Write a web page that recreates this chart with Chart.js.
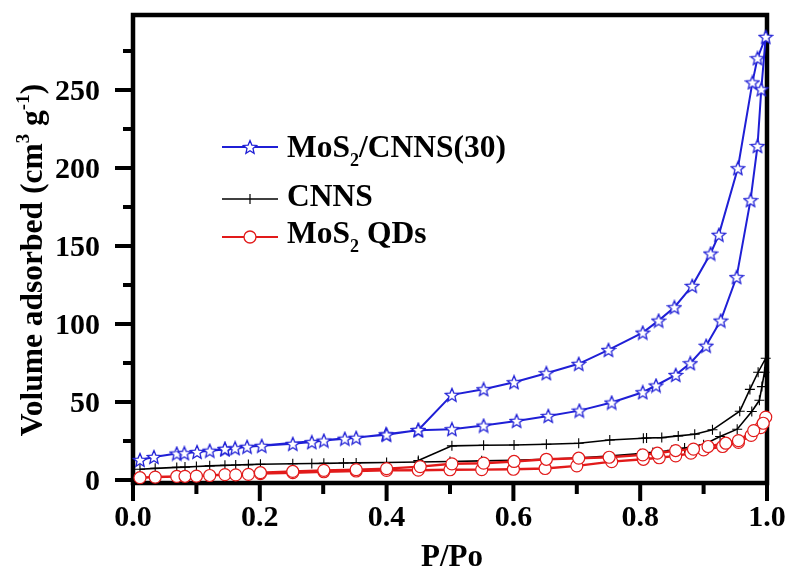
<!DOCTYPE html>
<html>
<head>
<meta charset="utf-8">
<script src="https://cdn.jsdelivr.net/npm/chart.js@4.4.1/dist/chart.umd.min.js"></script>
<style>
  html, body { margin: 0; padding: 0; background: #fff; }
  #wrap { width: 790px; height: 568px; }
</style>
</head>
<body>
<div id="wrap"><canvas id="c" width="790" height="568"></canvas></div>
<script>
// ---------- data ----------
const seriesNames = ['MoS2/CNNS(30)', 'CNNS', 'MoS2 QDs'];

// MoS2/CNNS(30): adsorption branch then desorption branch
const blueAdsX = [0.011,0.033,0.069,0.081,0.101,0.121,0.145,0.161,0.180,0.203,0.252,0.282,0.301,0.334,0.352,0.399,0.450,0.503,0.553,0.605,0.655,0.704,0.755,0.804,0.825,0.856,0.879,0.904,0.927,0.952,0.974,0.985,0.991,0.998];
const blueAdsY = [12.8,14.7,16.9,17.1,17.9,18.7,19.5,20.3,21.2,21.8,23.1,24.2,25.2,26.4,27.0,29.2,31.8,32.5,34.8,37.8,41.0,44.4,49.6,56.2,60.5,67.3,74.8,86.0,102.1,130.0,179.3,214.0,250.4,284.0];
const blueDesX = [0.985,0.977,0.954,0.924,0.911,0.882,0.854,0.829,0.804,0.750,0.703,0.652,0.601,0.553,0.503,0.450,0.400,0.145];
const blueDesY = [270.3,254.8,199.8,157.1,145.1,124.4,110.7,102.1,94.4,83.3,74.4,68.4,62.6,58.1,54.5,32.0,29.0,19.9];

// CNNS
const blackAdsX = [0.011,0.035,0.069,0.082,0.100,0.121,0.145,0.162,0.182,0.201,0.252,0.282,0.301,0.332,0.352,0.400,0.450,0.500,0.550,0.600,0.650,0.700,0.750,0.800,0.820,0.850,0.870,0.900,0.926,0.953,0.976,0.988,0.992,0.996,0.998];
const blackAdsY = [6.8,7.4,8.0,8.2,8.6,9.0,9.3,9.5,9.8,10.0,10.3,10.5,10.6,10.8,10.9,11.1,11.5,11.8,12.2,12.6,13.2,14.0,15.2,16.8,17.6,19.0,20.4,22.5,27.8,32.5,43.8,51.0,59.8,69.0,78.0];
const blackDesX = [0.986,0.973,0.957,0.914,0.886,0.860,0.834,0.810,0.805,0.752,0.703,0.652,0.601,0.553,0.503,0.450];
const blackDesY = [69.0,58.0,44.0,32.1,29.3,28.2,27.1,26.8,26.7,25.6,23.5,22.8,22.4,22.2,21.8,12.4];

// MoS2 QDs
const redAdsX = [0.011,0.035,0.069,0.082,0.100,0.121,0.145,0.162,0.182,0.201,0.252,0.301,0.352,0.400,0.450,0.500,0.550,0.600,0.650,0.700,0.755,0.805,0.830,0.856,0.880,0.900,0.930,0.955,0.975,0.990,0.998];
const redAdsY = [1.4,1.8,2.2,2.3,2.4,2.8,3.4,3.2,3.5,4.0,4.6,5.2,5.7,6.1,6.2,6.5,6.6,6.8,7.3,9.0,11.7,13.2,14.2,15.4,17.1,19.2,21.4,24.0,28.5,33.5,40.2];
const redDesX = [0.994,0.979,0.955,0.935,0.907,0.884,0.856,0.827,0.804,0.751,0.703,0.652,0.601,0.553,0.503,0.453,0.400,0.352,0.301,0.252,0.201];
const redDesY = [36.3,31.6,25.2,23.5,21.4,19.7,18.8,17.1,16.0,14.5,13.9,13.2,11.8,10.7,10.3,8.5,7.2,6.6,6.1,5.4,4.6];

// axis ticks
const xTicks = [0.0, 0.2, 0.4, 0.6, 0.8, 1.0];
const xTickLabels = ['0.0', '0.2', '0.4', '0.6', '0.8', '1.0'];
const xMinorTicks = [0.1, 0.3, 0.5, 0.7, 0.9];
const yTicks = [0, 50, 100, 150, 200, 250];
const yTickLabels = ['0', '50', '100', '150', '200', '250'];
const yMinorTicks = [25, 75, 125, 175, 225, 275];
const xTitle = 'P/Po';

// ---------- helpers ----------
const FONT = "'Liberation Serif', 'Times New Roman', serif";
const BLUE = '#1f1fd6';
const RED = '#e21a1a';
const BLACK = '#000000';

function pts(xs, ys) { return xs.map((x, i) => ({ x: x, y: ys[i] })); }

function makeStar(size, color) {
  const c = document.createElement('canvas');
  c.width = size; c.height = size;
  const g = c.getContext('2d');
  const cx = size / 2, cy = size / 2 + 0.6, R = size / 2 - 1, r = R * 0.45;
  g.beginPath();
  for (let i = 0; i < 10; i++) {
    const a = -Math.PI / 2 + i * Math.PI / 5;
    const rad = i % 2 === 0 ? R : r;
    g.lineTo(cx + rad * Math.cos(a), cy + rad * Math.sin(a));
  }
  g.closePath();
  g.fillStyle = '#fff';
  g.fill();
  g.strokeStyle = color;
  g.lineWidth = 1.3;
  g.stroke();
  return c;
}
const starImg = makeStar(16, BLUE);

function drawRich(ctx, parts, x, y) {
  let cx = x;
  parts.forEach(p => {
    ctx.font = 'bold ' + p.size + 'px ' + FONT;
    ctx.fillText(p.t, cx, y + (p.dy || 0));
    cx += ctx.measureText(p.t).width;
  });
  return cx - x;
}
function richWidth(ctx, parts) {
  let w = 0;
  parts.forEach(p => { ctx.font = 'bold ' + p.size + 'px ' + FONT; w += ctx.measureText(p.t).width; });
  return w;
}

// ---------- plugins ----------
const frameAndTicks = {
  id: 'frameAndTicks',
  beforeDatasetsDraw(chart) {
    const { ctx, chartArea: a, scales } = chart;
    const xs = scales.x, ys = scales.y;
    ctx.save();
    ctx.strokeStyle = '#000';
    ctx.lineWidth = 4;
    ctx.lineCap = 'butt';
    ctx.beginPath();
    yTicks.forEach(v => { const p = ys.getPixelForValue(v); ctx.moveTo(a.left - 18, p); ctx.lineTo(a.left, p); });
    yMinorTicks.forEach(v => { const p = ys.getPixelForValue(v); ctx.moveTo(a.left - 10, p); ctx.lineTo(a.left, p); });
    xTicks.forEach(v => { const p = xs.getPixelForValue(v); ctx.moveTo(p, a.bottom); ctx.lineTo(p, a.bottom + 18); });
    xMinorTicks.forEach(v => { const p = xs.getPixelForValue(v); ctx.moveTo(p, a.bottom); ctx.lineTo(p, a.bottom + 11); });
    ctx.stroke();
    ctx.lineWidth = 4.5;
    ctx.strokeRect(a.left, a.top, a.right - a.left, a.bottom - a.top);

    // tick labels
    ctx.fillStyle = '#000';
    ctx.font = 'bold 30px ' + FONT;
    ctx.textAlign = 'right';
    ctx.textBaseline = 'alphabetic';
    yTicks.forEach((v, i) => {
      const p = ys.getPixelForValue(v);
      ctx.fillText(yTickLabels[i], 100, p + 10);
    });
    ctx.textAlign = 'center';
    xTicks.forEach((v, i) => {
      const p = xs.getPixelForValue(v);
      ctx.fillText(xTickLabels[i], p, 526);
    });
    ctx.restore();
  }
};

const titlesAndLegend = {
  id: 'titlesAndLegend',
  afterDraw(chart) {
    const { ctx, chartArea: a } = chart;
    ctx.save();
    ctx.fillStyle = '#000';
    ctx.textBaseline = 'alphabetic';
    ctx.textAlign = 'left';

    // x title
    ctx.font = 'bold 31px ' + FONT;
    const xw = ctx.measureText(xTitle).width;
    ctx.fillText(xTitle, (a.left + a.right) / 2 + 2 - xw / 2, 566);

    // y title (rotated)
    const yParts = [
      { t: 'Volume adsorbed (cm', size: 31.5 },
      { t: '3', size: 19, dy: -13 },
      { t: ' g', size: 31.5 },
      { t: '-1', size: 19, dy: -13 },
      { t: ')', size: 31.5 }
    ];
    const yw = richWidth(ctx, yParts);
    ctx.save();
    ctx.translate(42, 260);
    ctx.rotate(-Math.PI / 2);
    drawRich(ctx, yParts, -yw / 2, 0);
    ctx.restore();

    // legend
    const lx0 = 222, lx1 = 278, tx = 287;
    const rows = [
      { y: 147, base: 157, color: BLUE, lw: 2, marker: 'star',
        parts: [{ t: 'MoS', size: 31.5 }, { t: '2', size: 18, dy: 9 }, { t: '/CNNS(30)', size: 31.5 }] },
      { y: 199, base: 206, color: BLACK, lw: 1.5, marker: 'cross',
        parts: [{ t: 'CNNS', size: 31.5 }] },
      { y: 237, base: 243, color: RED, lw: 2, marker: 'circle',
        parts: [{ t: 'MoS', size: 31.5 }, { t: '2', size: 18, dy: 9 }, { t: ' QDs', size: 31.5 }] }
    ];
    rows.forEach(r => {
      ctx.strokeStyle = r.color;
      ctx.lineWidth = r.lw;
      ctx.beginPath();
      ctx.moveTo(lx0, r.y); ctx.lineTo(lx1, r.y);
      ctx.stroke();
      const mx = (lx0 + lx1) / 2;
      if (r.marker === 'star') {
        ctx.drawImage(starImg, mx - starImg.width / 2, r.y - starImg.height / 2);
      } else if (r.marker === 'cross') {
        ctx.lineWidth = 1.2;
        ctx.beginPath();
        ctx.moveTo(mx, r.y - 5); ctx.lineTo(mx, r.y + 5);
        ctx.stroke();
      } else {
        ctx.fillStyle = '#fff';
        ctx.lineWidth = 1.3;
        ctx.beginPath();
        ctx.arc(mx, r.y, 6, 0, Math.PI * 2);
        ctx.fill();
        ctx.stroke();
      }
      ctx.fillStyle = '#000';
      drawRich(ctx, r.parts, tx, r.base);
    });
    ctx.restore();
  }
};

// ---------- chart ----------
const datasets = [
  {
    label: seriesNames[0],
    data: pts(blueAdsX, blueAdsY).concat(pts(blueDesX, blueDesY)),
    borderColor: BLUE, borderWidth: 2,
    pointStyle: starImg, pointRadius: 8,
    showLine: true, clip: false, tension: 0
  },
  {
    label: seriesNames[2],
    data: pts(redAdsX, redAdsY).concat(pts(redDesX, redDesY)),
    borderColor: RED, borderWidth: 2.4,
    pointStyle: 'circle', pointRadius: 6, pointBorderWidth: 1.2,
    pointBackgroundColor: '#fff', pointBorderColor: RED,
    showLine: true, clip: false, tension: 0
  },
  {
    label: seriesNames[1],
    data: pts(blackAdsX, blackAdsY).concat(pts(blackDesX, blackDesY)),
    borderColor: BLACK, borderWidth: 1.6,
    pointStyle: 'cross', pointRadius: 5, pointBorderWidth: 1.1,
    pointBorderColor: BLACK,
    showLine: true, clip: false, tension: 0
  }
];

new Chart(document.getElementById('c'), {
  type: 'scatter',
  data: { datasets: datasets },
  plugins: [frameAndTicks, titlesAndLegend],
  options: {
    responsive: false,
    animation: false,
    devicePixelRatio: 1,
    layout: { padding: { top: 15, right: 23, left: 0, bottom: 0 } },
    plugins: { legend: { display: false }, tooltip: { enabled: false } },
    scales: {
      x: {
        type: 'linear', min: 0, max: 1,
        grid: { display: false, drawTicks: false },
        border: { display: false },
        ticks: { display: false },
        afterBuildTicks: s => { s.ticks = xTicks.map(v => ({ value: v })); },
        afterFit: s => { s.height = 85; s.paddingLeft = 0; s.paddingRight = 0; }
      },
      y: {
        type: 'linear', min: -2, max: 298,
        grid: { display: false, drawTicks: false },
        border: { display: false },
        ticks: { display: false },
        afterBuildTicks: s => { s.ticks = yTicks.map(v => ({ value: v })); },
        afterFit: s => { s.width = 133; s.paddingTop = 0; s.paddingBottom = 0; }
      }
    }
  }
});
</script>
</body>
</html>
